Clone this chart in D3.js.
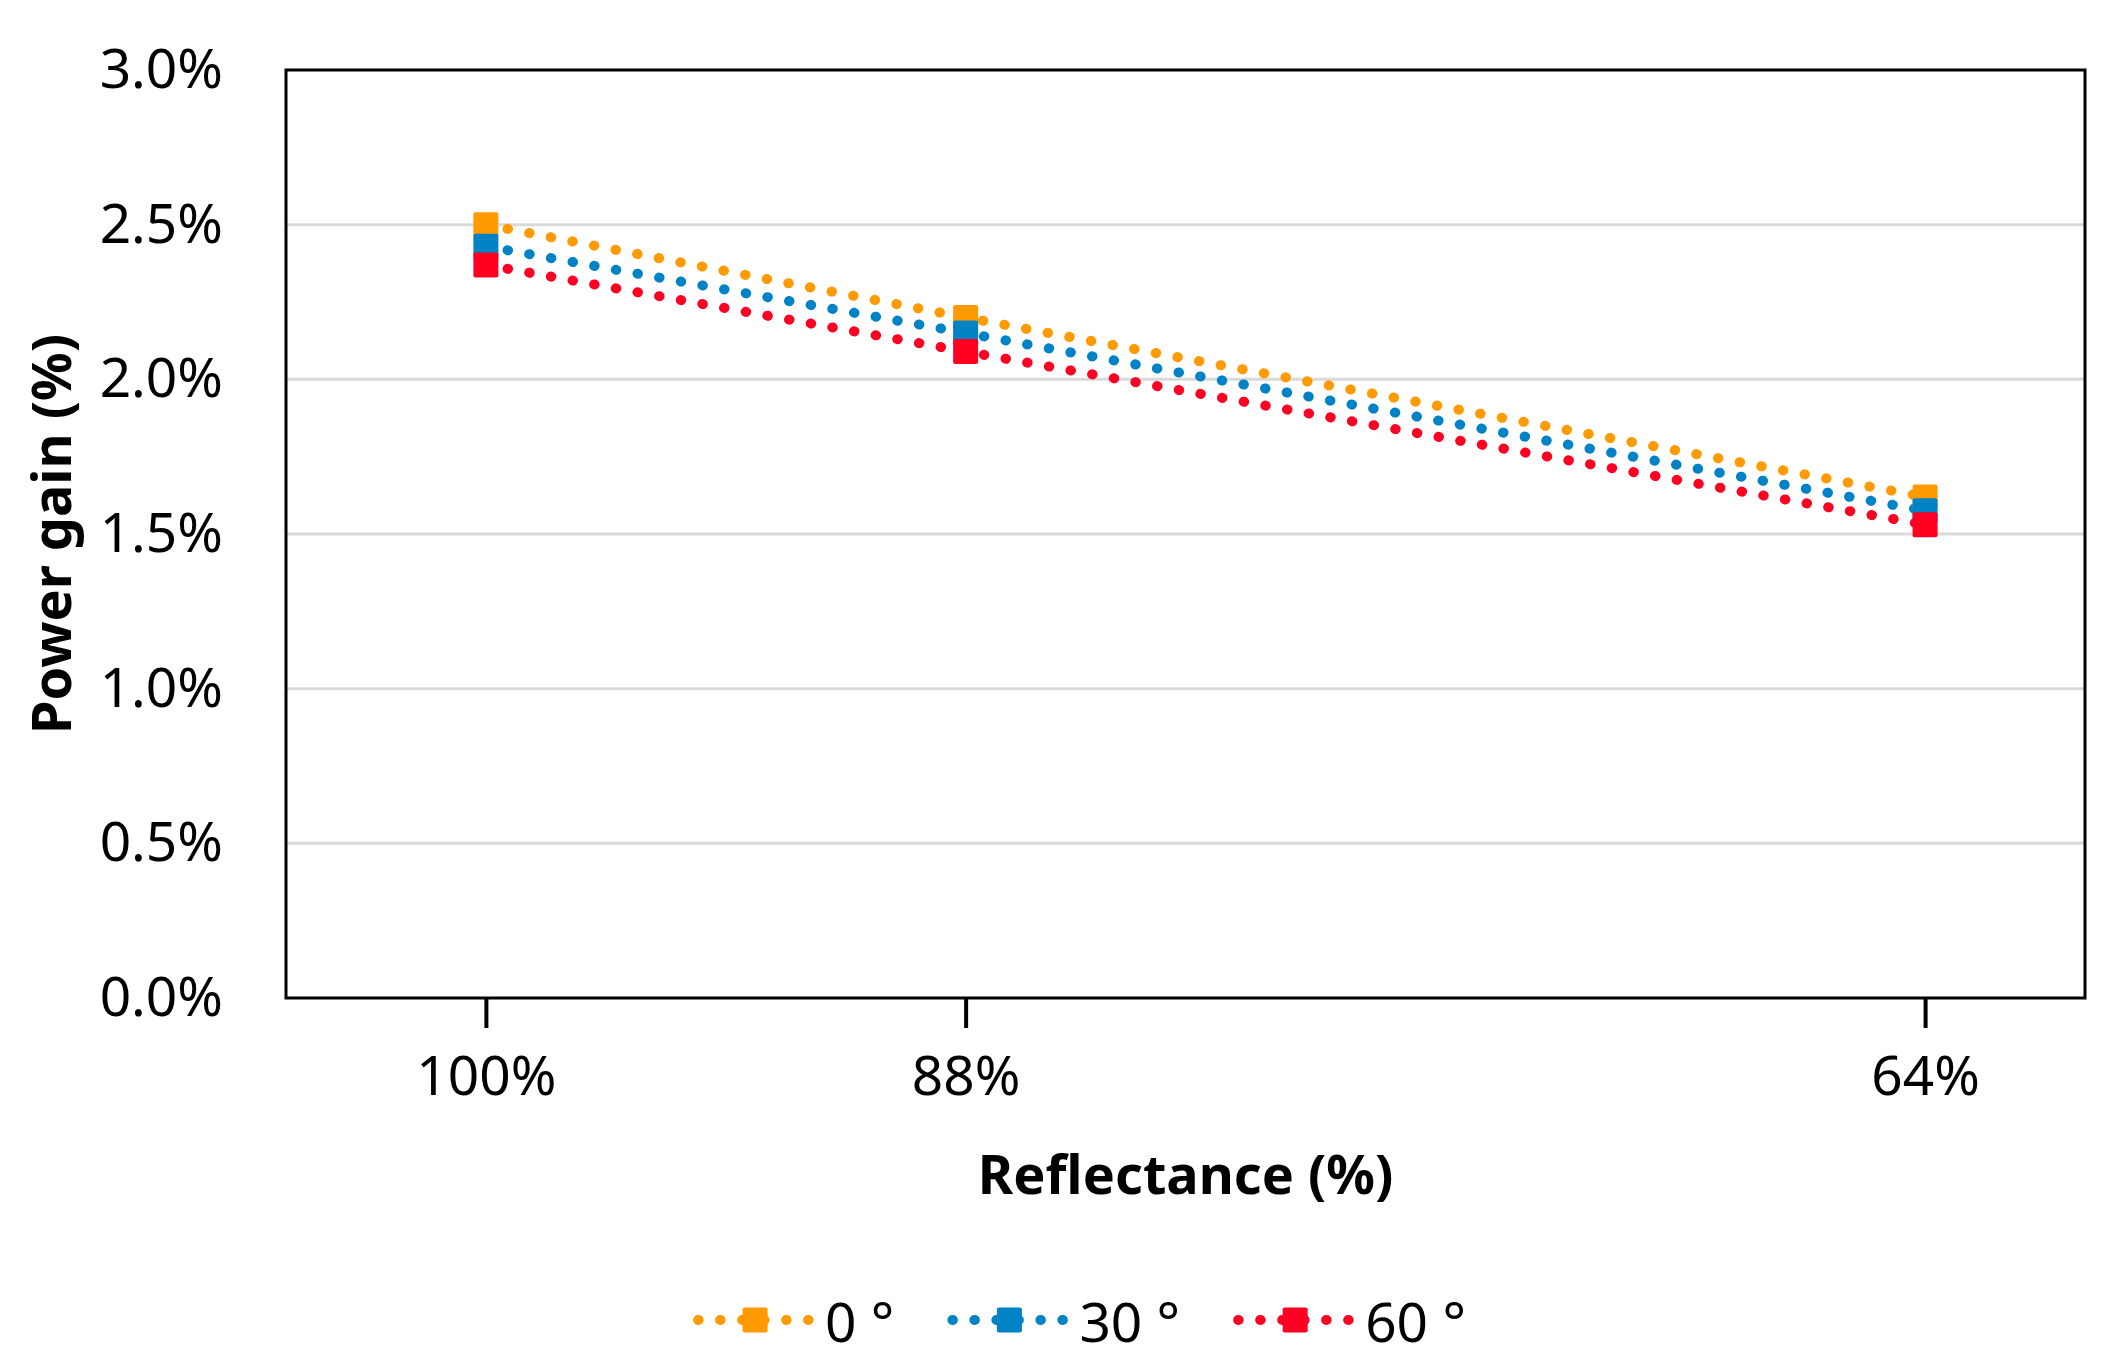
<!DOCTYPE html>
<html>
<head>
<meta charset="utf-8">
<script src="https://cdn.jsdelivr.net/npm/d3@7"></script>
<style>
  body { margin: 0; background: #fff; }
  svg { display: block; }
</style>
</head>
<body>
<svg id="chart"></svg>
<script>
// data
let reflectance = [100, 88, 64];
let seriesNames = ["0 °", "30 °", "60 °"];
let gain0 = [2.50, 2.20, 1.62];
let gain30 = [2.43, 2.15, 1.575];
let gain60 = [2.37, 2.09, 1.53];
let yTicks = [0, 0.5, 1.0, 1.5, 2.0, 2.5, 3.0];
let colors = ["#ff9a00", "#0082c6", "#ff0022"];

let series = [gain0, gain30, gain60].map(function (vals, i) {
    return {
        name: seriesNames[i],
        color: colors[i],
        points: vals.map((v, j) => ({x: reflectance[j], y: v}))
    };
});

let width = 2106, height = 1370;
let margin = {top: 70, right: 21, bottom: 372, left: 286};
let font = "'Noto Sans', 'Open Sans', sans-serif";

let svg = d3.select("#chart")
    .attr("width", width)
    .attr("height", height);

svg.append("rect").attr("width", width).attr("height", height).attr("fill", "#fff");

let x = d3.scaleLinear()
    .domain([105, 60])
    .range([margin.left, width - margin.right]);

let y = d3.scaleLinear()
    .domain([0, 3])
    .range([height - margin.bottom, margin.top]);

// gridlines
svg.append("g")
    .selectAll("line")
    .data(yTicks.filter(d => d > 0 && d < 3))
    .join("line")
    .attr("x1", x.range()[0])
    .attr("x2", x.range()[1])
    .attr("y1", d => y(d))
    .attr("y2", d => y(d))
    .attr("stroke", "#d9d9d9")
    .attr("stroke-width", 3);

// y axis labels
let yAxis = svg.append("g")
    .attr("transform", "translate(" + margin.left + ",0)")
    .call(d3.axisLeft(y).tickValues(yTicks).tickSize(0).tickPadding(63)
        .tickFormat(d => d3.format(".1f")(d) + "%"));
yAxis.select(".domain").remove();
yAxis.selectAll("text")
    .attr("font-family", font)
    .attr("font-size", 55)
    .attr("fill", "#000");

// x axis with ticks below plot
let xAxis = svg.append("g")
    .attr("transform", "translate(0," + (height - margin.bottom) + ")")
    .call(d3.axisBottom(x).tickValues(reflectance).tickSize(30).tickPadding(28)
        .tickFormat(d => d + "%"));
xAxis.select(".domain").remove();
xAxis.selectAll("line").attr("stroke", "#000").attr("stroke-width", 4);
xAxis.selectAll("text")
    .attr("font-family", font)
    .attr("font-size", 55)
    .attr("fill", "#000");

// plot border
svg.append("rect")
    .attr("x", x.range()[0])
    .attr("y", y.range()[1])
    .attr("width", x.range()[1] - x.range()[0])
    .attr("height", y.range()[0] - y.range()[1])
    .attr("fill", "none")
    .attr("stroke", "#000")
    .attr("stroke-width", 3);

// lines
let line = d3.line().x(d => x(d.x)).y(d => y(d.y));

svg.append("g")
    .selectAll("path")
    .data(series)
    .join("path")
    .attr("d", d => line(d.points))
    .attr("fill", "none")
    .attr("stroke", d => d.color)
    .attr("stroke-width", 10)
    .attr("stroke-linecap", "round")
    .attr("stroke-dasharray", "0.5 21.5");

// markers
let msize = 25;
series.forEach(function (s) {
    svg.append("g")
        .selectAll("rect")
        .data(s.points)
        .join("rect")
        .attr("x", d => x(d.x) - msize / 2)
        .attr("y", d => y(d.y) - msize / 2)
        .attr("width", msize)
        .attr("height", msize)
        .attr("rx", 2)
        .attr("fill", s.color);
});

// axis titles
svg.append("text")
    .attr("x", (x.range()[0] + x.range()[1]) / 2)
    .attr("y", 1173)
    .attr("text-anchor", "middle")
    .attr("dominant-baseline", "central")
    .attr("font-family", font)
    .attr("font-weight", "bold")
    .attr("font-size", 54)
    .text("Reflectance (%)");

svg.append("text")
    .attr("transform", "translate(50," + ((y.range()[0] + y.range()[1]) / 2) + ") rotate(-90)")
    .attr("text-anchor", "middle")
    .attr("dominant-baseline", "central")
    .attr("font-family", font)
    .attr("font-weight", "bold")
    .attr("font-size", 54)
    .text("Power gain (%)");

// legend
let legend = svg.append("g");
let sampleW = 122, textGap = 13, itemGap = 50, legendY = 1320;
let cursor = 0;
series.forEach(function (s) {
    let item = legend.append("g").attr("transform", "translate(" + cursor + ",0)");
    item.append("line")
        .attr("x1", 8).attr("x2", sampleW)
        .attr("y1", legendY).attr("y2", legendY)
        .attr("stroke", s.color)
        .attr("stroke-width", 10)
        .attr("stroke-linecap", "round")
        .attr("stroke-dasharray", "0.5 21.5");
    item.append("rect")
        .attr("x", sampleW / 2 - msize / 2 + 4)
        .attr("y", legendY - msize / 2)
        .attr("width", msize).attr("height", msize)
        .attr("rx", 2)
        .attr("fill", s.color);
    let t = item.append("text")
        .attr("x", sampleW + textGap)
        .attr("y", legendY)
        .attr("dominant-baseline", "central")
        .attr("font-family", font)
        .attr("font-size", 55)
        .text(s.name);
    cursor += sampleW + textGap + t.node().getComputedTextLength() + itemGap;
});
let legendW = cursor - itemGap;
legend.attr("transform", "translate(" + (1078 - legendW / 2) + ",0)");
</script>
</body>
</html>
